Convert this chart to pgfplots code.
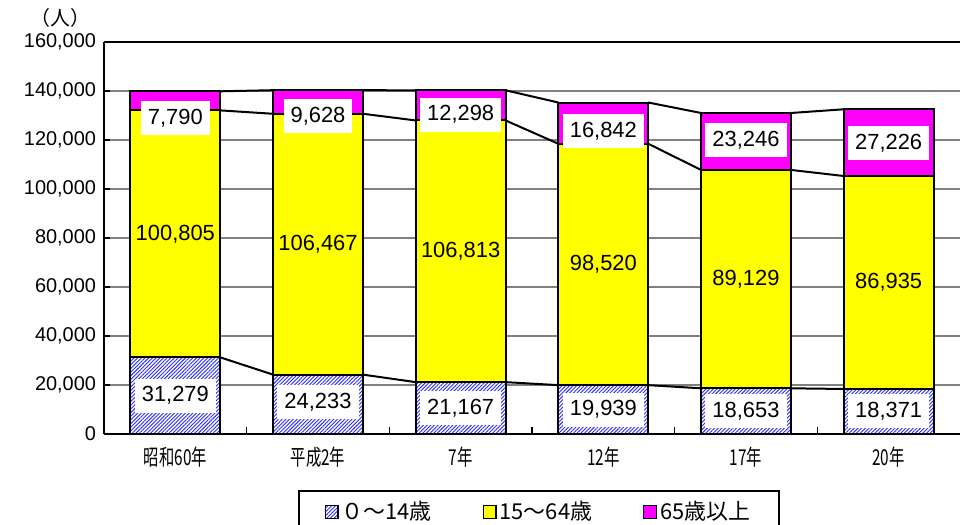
\documentclass[border=0pt]{standalone}
\usepackage{fontspec}
\setmainfont{Liberation Sans}
\newfontfamily\jp{Noto Sans CJK JP}
\newfontfamily\jpx[FakeStretch=0.7]{Noto Sans CJK JP}
\usepackage{pgfplots}
\pgfplotsset{compat=1.18}
\usetikzlibrary{patterns.meta}
\definecolor{myyellow}{RGB}{255,255,0}
\definecolor{mymag}{RGB}{255,0,255}
\definecolor{hatchblue}{RGB}{40,40,255}
\pgfplotsset{
  sqlegend/.style={legend image code/.code={\draw[##1, line width=0.6bp] (0bp,-3.2bp) rectangle (6.4bp,3.2bp);}},
}
\begin{document}
\begin{tikzpicture}
\begin{axis}[
  at={(0,0)}, anchor=south west,
  scale only axis, width=428bp, height=196bp,
  xmin=-0.5, xmax=5.5, ymin=0, ymax=160000,
  ybar stacked, bar width=0.63,
  xtick={0,...,5},
  xticklabels={昭和60年,平成2年,7年,12年,17年,20年},
  xticklabel style={font=\jpx\fontsize{11}{11}\selectfont, yshift=-3bp},
  major x tick style={draw=none},
  minor xtick={0.5,1.5,2.5,3.5,4.5},
  ytick={0,20000,...,160000},
  scaled y ticks=false,
  yticklabel={\pgfmathprintnumber[fixed,1000 sep={,},assume math mode=true]{\tick}},
  yticklabel style={font=\fontsize{10}{10}\selectfont, xshift=-0.5bp},
  ymajorgrids, major grid style={draw=gray, line width=0.6bp},
  axis x line*=bottom, axis y line*=left,
  axis line style={line width=1bp, -},
  tick align=inside,
  tick style={black, line width=0.8bp},
  major tick length=3bp, minor tick length=3.5bp,
  ylabel={（人）},
  every axis y label/.style={at={(axis description cs:-0.051,1.061)}, anchor=center, font=\jp\fontsize{10}{10}\selectfont},
  legend columns=3,
  legend style={at={(0.508,-0.143)}, anchor=north, draw=black, line width=1bp,
    font=\jp\fontsize{11}{11}\selectfont, inner xsep=13bp, inner ysep=3.5bp,
    nodes={inner sep=1.5bp},
    /tikz/every even column/.append style={column sep=24bp}},
]
\addplot[draw=black, line width=1bp, fill=white,
  postaction={pattern={Lines[angle=45,distance=1.3bp,line width=0.45bp]}, pattern color=hatchblue},
  sqlegend]
  coordinates {(0,31279) (1,24233) (2,21167) (3,19939) (4,18653) (5,18371)};
\addplot[draw=black, line width=1bp, fill=myyellow, sqlegend]
  coordinates {(0,100805) (1,106467) (2,106813) (3,98520) (4,89129) (5,86935)};
\addplot[draw=black, line width=1bp, fill=mymag, sqlegend]
  coordinates {(0,7790) (1,9628) (2,12298) (3,16842) (4,23246) (5,27226)};
\legend{０～14歳,15～64歳,65歳以上}
\end{axis}
\begin{axis}[
  at={(0,0)}, anchor=south west,
  scale only axis, width=428bp, height=196bp,
  xmin=-0.5, xmax=5.5, ymin=0, ymax=160000,
  hide axis, clip=false,
]
\draw[black, line width=1bp] (rel axis cs:0,1) -- (rel axis cs:1,1);
\addplot[black, line width=1bp, mark=none, unbounded coords=jump] coordinates {
  (0.315,31279) (0.685,24233) (1,nan) (1.315,24233) (1.685,21167) (2,nan)
  (2.315,21167) (2.685,19939) (3,nan) (3.315,19939) (3.685,18653) (4,nan)
  (4.315,18653) (4.685,18371)};
\addplot[black, line width=1bp, mark=none, unbounded coords=jump] coordinates {
  (0.315,132084) (0.685,130700) (1,nan) (1.315,130700) (1.685,127980) (2,nan)
  (2.315,127980) (2.685,118459) (3,nan) (3.315,118459) (3.685,107782) (4,nan)
  (4.315,107782) (4.685,105306)};
\addplot[black, line width=1bp, mark=none, unbounded coords=jump] coordinates {
  (0.315,139874) (0.685,140328) (1,nan) (1.315,140328) (1.685,140278) (2,nan)
  (2.315,140278) (2.685,135301) (3,nan) (3.315,135301) (3.685,131028) (4,nan)
  (4.315,131028) (4.685,132532)};
% boxed labels (bottom and top segments)
\addplot[draw=none, mark=none, nodes near coords, point meta=explicit symbolic,
  nodes near coords style={anchor=center, fill=white, font=\fontsize{11}{11}\selectfont,
    inner xsep=3.5bp, minimum height=17bp}]
  table[meta=lab] {
x y lab
0 15640 31,279
1 12900 24,233
2 10584 21,167
3 9970 19,939
4 9327 18,653
5 9186 18,371
0 129000 7,790
1 129800 9,628
2 130400 12,298
3 123500 16,842
4 120000 23,246
5 118600 27,226
};
% middle labels without box
\addplot[draw=none, mark=none, nodes near coords, point meta=explicit symbolic,
  nodes near coords style={anchor=center, font=\fontsize{11}{11}\selectfont}]
  table[meta=lab] {
x y lab
0 81682 100,805
1 77467 106,467
2 74574 106,813
3 69199 98,520
4 63218 89,129
5 61839 86,935
};
\end{axis}
\pgfresetboundingbox
\path[use as bounding box] (-52bp,-45.5bp) rectangle (428.5bp,217bp);
\end{tikzpicture}
\end{document}
